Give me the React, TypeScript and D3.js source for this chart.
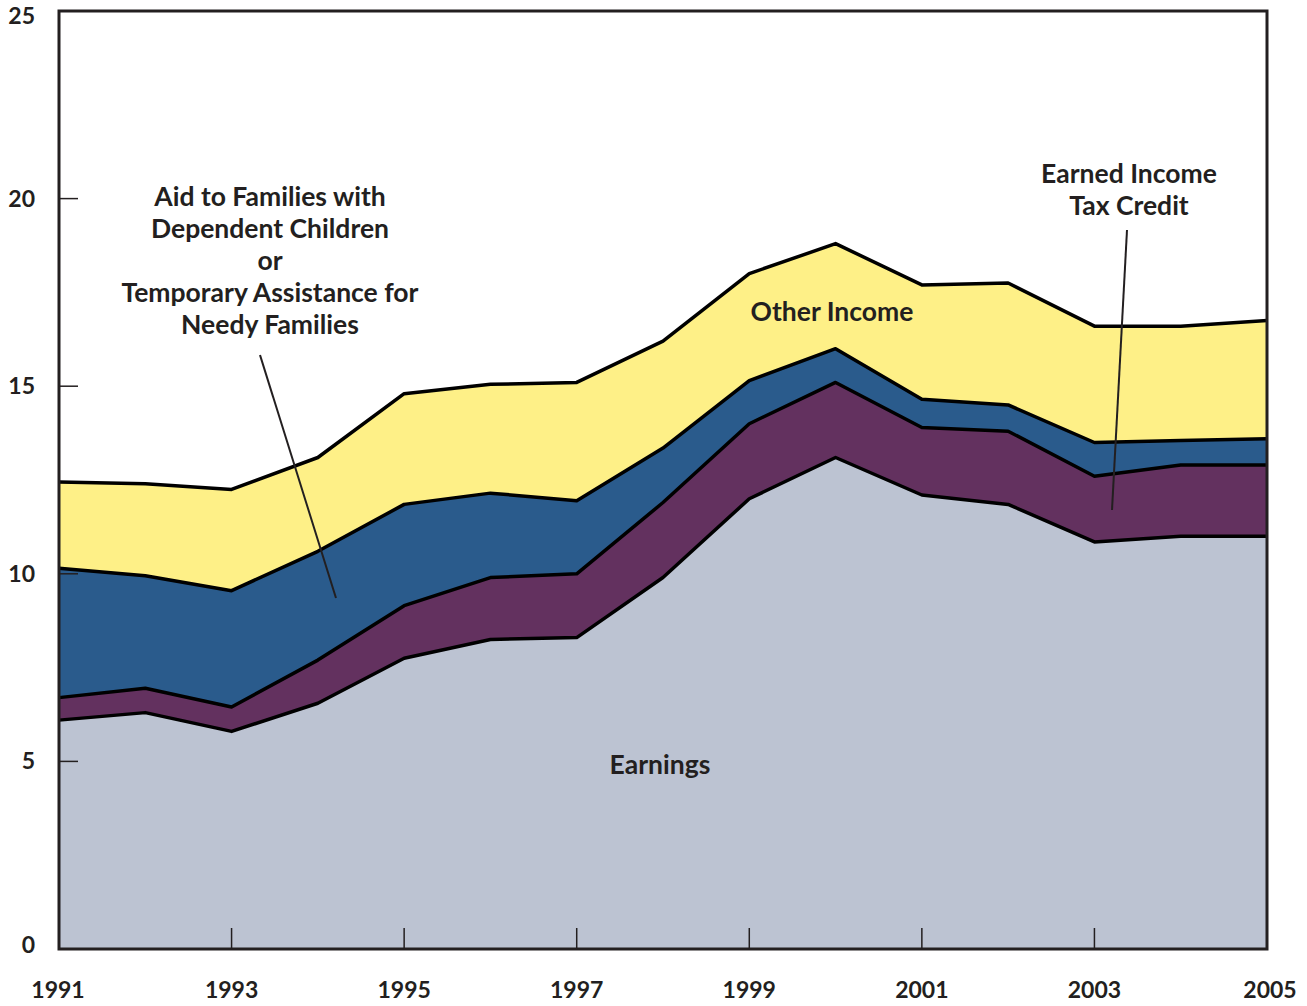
import React from "react";
import * as d3 from "d3";

const years = [1991, 1992, 1993, 1994, 1995, 1996, 1997, 1998, 1999, 2000, 2001, 2002, 2003, 2004, 2005];
const earnings = [6.1, 6.3, 5.8, 6.55, 7.75, 8.25, 8.3, 9.9, 12.0, 13.1, 12.1, 11.85, 10.85, 11.0, 11.0];
const eitc = [0.6, 0.65, 0.65, 1.15, 1.4, 1.65, 1.7, 2.0, 2.0, 2.0, 1.8, 1.95, 1.75, 1.9, 1.9];
const afdc = [3.45, 3.0, 3.1, 2.9, 2.7, 2.25, 1.95, 1.45, 1.15, 0.9, 0.75, 0.7, 0.9, 0.65, 0.7];
const other = [2.3, 2.45, 2.7, 2.5, 2.95, 2.9, 3.15, 2.85, 2.85, 2.8, 3.05, 3.25, 3.1, 3.05, 3.15];
const seriesKeys = ["earnings", "eitc", "afdc", "other"];
const seriesColors = ["#bcc3d2", "#63315f", "#2a5b8c", "#fef087"];
const yTicks = [0, 5, 10, 15, 20, 25];
const xTicks = [1991, 1993, 1995, 1997, 1999, 2001, 2003, 2005];

const W = 1307, H = 1006;
const M = { left: 59, right: 1267, top: 11, bottom: 949 };
const FONT = "Lato, 'Open Sans', sans-serif";
const INK = "#231f20";
const LABEL_SIZE = 26.5;

export default function App() {
  const x = d3.scaleLinear().domain([1991, 2005]).range([M.left, M.right]);
  const y = d3.scaleLinear().domain([0, 25]).range([M.bottom, M.top]);
  const rows = years.map((yr, i) => ({ year: yr, earnings: earnings[i], eitc: eitc[i], afdc: afdc[i], other: other[i] }));
  const stacked = d3.stack<any>().keys(seriesKeys)(rows);
  const area = d3.area<any>().x((d) => x(d.data.year)).y0((d) => y(d[0])).y1((d) => y(d[1]));
  const line = d3.line<any>().x((d) => x(d.data.year)).y((d) => y(d[1]));

  const aidLines = ["Aid to Families with", "Dependent Children", "or", "Temporary Assistance for", "Needy Families"];
  const eitcLines = ["Earned Income", "Tax Credit"];

  return (
    <svg width={W} height={H} style={{ position: "absolute", left: 0, top: 0, background: "#fff" }}>
      {stacked.map((s, i) => (
        <path key={"a" + i} d={area(s) || ""} fill={seriesColors[i]} stroke="none" />
      ))}
      {stacked.map((s, i) => (
        <path key={"l" + i} d={line(s) || ""} fill="none" stroke="#000" strokeWidth={3.5} strokeLinejoin="round" />
      ))}
      {/* frame */}
      <rect x={M.left} y={M.top} width={M.right - M.left} height={M.bottom - M.top} fill="none" stroke={INK} strokeWidth={3} />
      {/* y ticks */}
      {yTicks.map((t) => (
        <g key={"y" + t}>
          {t > 0 && t < 25 && <line x1={M.left} x2={M.left + 19} y1={y(t)} y2={y(t)} stroke={INK} strokeWidth={1.5} />}
          <text x={35} y={Math.min(Math.max(y(t), 16), 945)} dy="0.35em" textAnchor="end" fontFamily={FONT} fontWeight={700} fontSize={23} fill={INK}>
            {t}
          </text>
        </g>
      ))}
      {/* x ticks */}
      {xTicks.map((t) => (
        <g key={"x" + t}>
          {t > 1991 && t < 2005 && <line x1={x(t)} x2={x(t)} y1={M.bottom} y2={M.bottom - 21} stroke={INK} strokeWidth={1.5} />}
          <text x={x(t) + (t === 1991 ? -1 : t === 2005 ? 3 : 0)} y={990} dy="0.35em" textAnchor="middle" fontFamily={FONT} fontWeight={700} fontSize={23} fill={INK}>
            {t}
          </text>
        </g>
      ))}
      {/* annotations */}
      {aidLines.map((s, i) => (
        <text key={"aid" + i} x={270} y={197 + i * 32} dy="0.35em" textAnchor="middle" fontFamily={FONT} fontWeight={700} fontSize={LABEL_SIZE} fill={INK}>
          {s}
        </text>
      ))}
      <line x1={260} y1={355} x2={336} y2={598} stroke={INK} strokeWidth={2} />
      {eitcLines.map((s, i) => (
        <text key={"eitc" + i} x={1129} y={174 + i * 32} dy="0.35em" textAnchor="middle" fontFamily={FONT} fontWeight={700} fontSize={LABEL_SIZE} fill={INK}>
          {s}
        </text>
      ))}
      <line x1={1127} y1={230} x2={1112} y2={510} stroke={INK} strokeWidth={2} />
      <text x={832} y={312} dy="0.35em" textAnchor="middle" fontFamily={FONT} fontWeight={700} fontSize={LABEL_SIZE} fill={INK}>Other Income</text>
      <text x={660} y={765} dy="0.35em" textAnchor="middle" fontFamily={FONT} fontWeight={700} fontSize={LABEL_SIZE} fill={INK}>Earnings</text>
    </svg>
  );
}
